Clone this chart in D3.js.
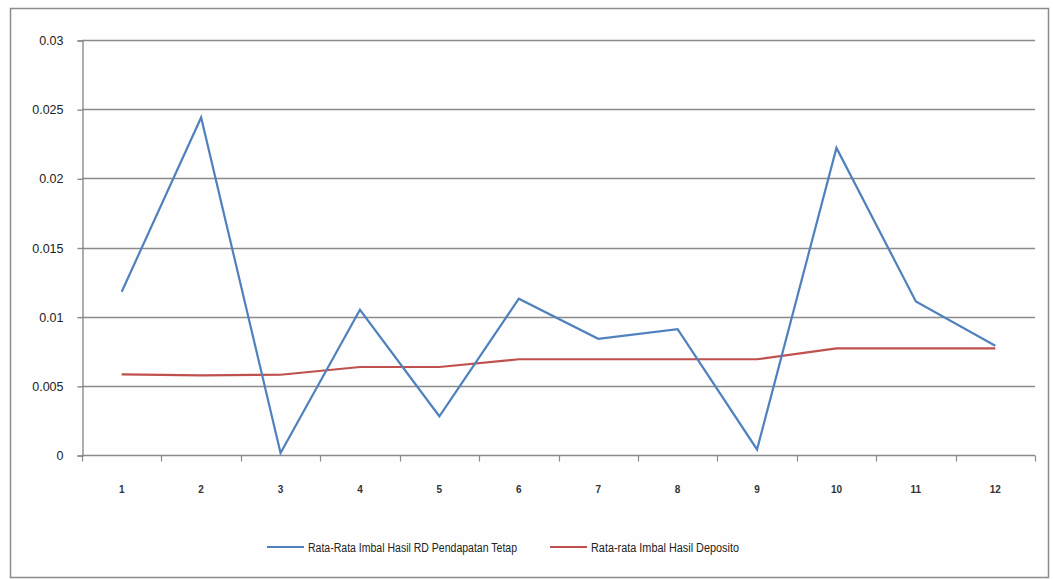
<!DOCTYPE html>
<html>
<head>
<meta charset="utf-8">
<script src="https://cdn.jsdelivr.net/npm/d3@7"></script>
<style>
  html, body { margin: 0; padding: 0; background: #fff; }
  svg { display: block; }
</style>
</head>
<body>
<svg id="chart" width="1053" height="579"></svg>
<script>
// Monthly periods on the x axis
const periods = ["1", "2", "3", "4", "5", "6", "7", "8", "9", "10", "11", "12"];
// Average return of fixed-income mutual funds
const reksaDanaValues = [0.0118, 0.0244, 0.00015, 0.0105, 0.0028, 0.0113, 0.0084, 0.0091, 0.0004, 0.0222, 0.0111, 0.0079];
// Average deposit return
const depositoValues = [0.00583, 0.00576, 0.0058, 0.00636, 0.00636, 0.00692, 0.00692, 0.00692, 0.00692, 0.00771, 0.00771, 0.00771];
// Y axis ticks
const yTicks = [0, 0.005, 0.01, 0.015, 0.02, 0.025, 0.03];
const yTickLabels = ["0", "0.005", "0.01", "0.015", "0.02", "0.025", "0.03"];
// Legend entries
const seriesNames = ["Rata-Rata Imbal Hasil RD Pendapatan Tetap", "Rata-rata Imbal Hasil Deposito"];

const svg = d3.select("#chart");
const font = "'Liberation Sans', Arial, sans-serif";

// Chart frame
svg.append("rect")
  .attr("x", 10.5).attr("y", 8.5)
  .attr("width", 1038).attr("height", 569)
  .attr("fill", "#fefefe")
  .attr("stroke", "#8c8c8c")
  .attr("stroke-width", 1.5);

const plot = { left: 82, right: 1035, top: 40, bottom: 455 };

const x = d3.scaleBand().domain(periods).range([plot.left, plot.right]);
const y = d3.scaleLinear().domain([0, 0.03]).range([plot.bottom, plot.top]);

// Horizontal gridlines
svg.append("g")
  .selectAll("line")
  .data(yTicks.filter(t => t > 0))
  .join("line")
  .attr("x1", plot.left).attr("x2", plot.right)
  .attr("y1", d => Math.round(y(d)) + 0.5).attr("y2", d => Math.round(y(d)) + 0.5)
  .attr("stroke", "#8a8a8a")
  .attr("stroke-width", 1.4);

// Y axis
const yAxis = d3.axisLeft(y)
  .tickValues(yTicks)
  .tickSize(5)
  .tickPadding(14)
  .tickFormat((d, i) => yTickLabels[i]);
const gy = svg.append("g")
  .attr("transform", `translate(${plot.left + 0.5},0.5)`)
  .call(yAxis);
gy.select(".domain").attr("stroke", "#8a8a8a").attr("stroke-width", 1.4);
gy.selectAll(".tick line").attr("stroke", "#8a8a8a").attr("stroke-width", 1.4);
gy.selectAll(".tick text")
  .attr("font-family", font)
  .attr("font-size", 12.5)
  .attr("fill", "#222");

// X axis with ticks on category boundaries
const xAxisG = svg.append("g").attr("transform", `translate(0,${Math.round(plot.bottom) + 0.5})`);
xAxisG.append("line")
  .attr("x1", plot.left).attr("x2", plot.right)
  .attr("stroke", "#8a8a8a").attr("stroke-width", 1.4);
const boundaries = periods.map(p => x(p)).concat([x(periods[periods.length - 1]) + x.bandwidth()]);
xAxisG.selectAll("line.tick")
  .data(boundaries)
  .join("line")
  .attr("class", "tick")
  .attr("x1", d => Math.round(d) + 0.5).attr("x2", d => Math.round(d) + 0.5)
  .attr("y1", 0).attr("y2", 6)
  .attr("stroke", "#8a8a8a").attr("stroke-width", 1.2);
xAxisG.selectAll("text")
  .data(periods)
  .join("text")
  .attr("x", d => x(d) + x.bandwidth() / 2)
  .attr("y", 37)
  .attr("text-anchor", "middle")
  .attr("font-family", font)
  .attr("font-size", 10)
  .attr("font-weight", "bold")
  .attr("fill", "#333")
  .text(d => d);

// Series lines
const line = d3.line()
  .x((d, i) => x(periods[i]) + x.bandwidth() / 2)
  .y(d => y(d));

svg.append("path")
  .datum(depositoValues)
  .attr("fill", "none")
  .attr("stroke", "#C0504D")
  .attr("stroke-width", 2.2)
  .attr("d", line);

svg.append("path")
  .datum(reksaDanaValues)
  .attr("fill", "none")
  .attr("stroke", "#4F81BD")
  .attr("stroke-width", 2.2)
  .attr("stroke-linejoin", "miter")
  .attr("d", line);

// Legend (condensed text, fitted to a fixed width)
const legendItems = [
  { name: seriesNames[0], color: "#4F81BD", x: 267, width: 209 },
  { name: seriesNames[1], color: "#C0504D", x: 550, width: 148 }
];
const legend = svg.append("g").attr("transform", "translate(0,547)");
legendItems.forEach(item => {
  legend.append("line")
    .attr("x1", item.x).attr("x2", item.x + 37)
    .attr("y1", 0).attr("y2", 0)
    .attr("stroke", item.color)
    .attr("stroke-width", 2.2);
  legend.append("text")
    .attr("x", item.x + 41)
    .attr("y", 4.5)
    .attr("font-family", font)
    .attr("font-size", 12.5)
    .attr("fill", "#222")
    .attr("textLength", item.width)
    .attr("lengthAdjust", "spacingAndGlyphs")
    .text(item.name);
});
</script>
</body>
</html>
